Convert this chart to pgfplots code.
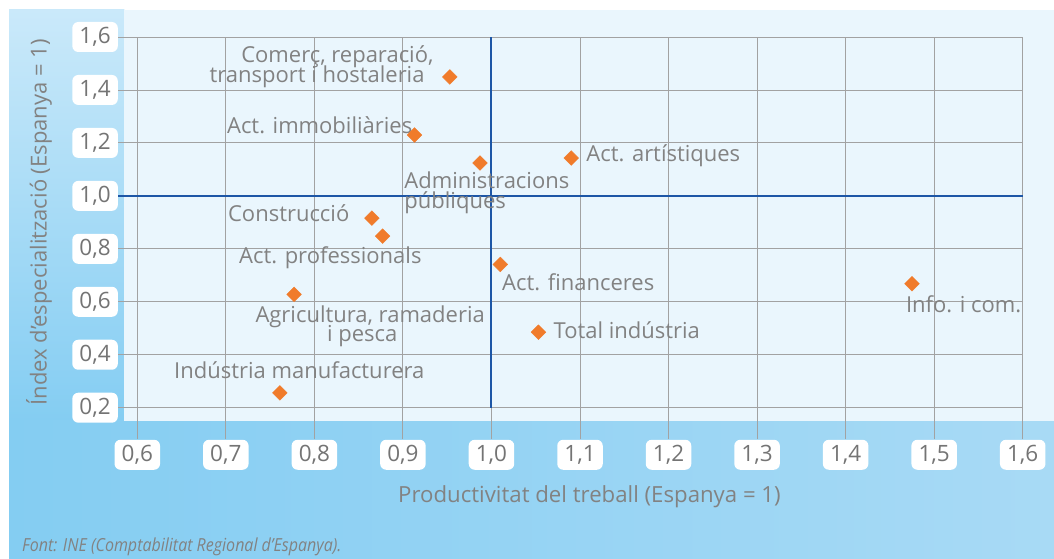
\documentclass[border=0pt]{standalone}
\usepackage{fontspec}
\setmainfont{Open Sans}
\usepackage{pgfplots}
\pgfplotsset{compat=1.18}
\definecolor{txtgray}{HTML}{828282}
\definecolor{tickgray}{HTML}{747474}
\definecolor{gridgray}{HTML}{A2A2A2}
\definecolor{mkorange}{HTML}{F07B2B}
\definecolor{axblue}{HTML}{1D56A6}
\definecolor{panel}{HTML}{EAF6FD}
\definecolor{lstop}{HTML}{CAE9FA}
\definecolor{deep}{HTML}{84CDF2}
\definecolor{bmid}{HTML}{BCE3F8}
\definecolor{bright}{HTML}{A8DAF5}
\begin{document}
\begin{tikzpicture}
\useasboundingbox (0pt,0pt) rectangle (1054pt,558pt);
\fill[white] (0pt,0pt) rectangle (1054pt,558pt);
\shade[top color=lstop, bottom color=deep] (9pt,137.3pt) rectangle (124.3pt,548pt);
\shade[left color=deep, middle color=bmid, right color=bright] (9pt,0pt) rectangle (1054pt,137.3pt);
\fill[panel] (124.3pt,137.3pt) rectangle (1054pt,548pt);
\begin{axis}[
  at={(137.3pt,150.3pt)}, anchor=south west,
  scale only axis, width=885.4pt, height=370.7pt,
  xmin=0.6, xmax=1.6, ymin=0.2, ymax=1.6,
  xtick={0.6,0.7,0.8,0.9,1.0,1.1,1.2,1.3,1.4,1.5,1.6},
  ytick={0.2,0.4,0.6,0.8,1.0,1.2,1.4,1.6},
  /pgf/number format/.cd, fixed, fixed zerofill, precision=1, use comma, assume math mode=true,
  /pgfplots/.cd,
  grid=major,
  major grid style={draw=gridgray, line width=0.9pt},
  axis line style={draw=gridgray, line width=0.9pt},
  tick align=outside, tick pos=left,
  xtick style={draw=gridgray, line width=0.9pt, /pgfplots/major tick length=31.6pt},
  ytick style={draw=gridgray, line width=0.9pt, /pgfplots/major tick length=19pt},
  ticklabel style={fill=white, rounded corners=6pt, minimum width=45.5pt, minimum height=30pt, inner sep=0pt, text=tickgray, font=\fontsize{22.5}{24}\selectfont},
  xticklabel style={anchor=north},
  yticklabel style={anchor=east},
  xticklabel shift=27.6pt,
  yticklabel shift=15pt,
  xlabel={Productivitat del treball (Espanya = 1)},
  ylabel={Índex d’especialització (Espanya = 1)},
  every axis x label/.style={at={(axis description cs:0.5107,-0.2563)}, anchor=base, text=txtgray, font=\fontsize{22.2}{24}\selectfont},
  every axis y label/.style={at={(axis description cs:-0.111,0.5)}, anchor=center, rotate=90, text=txtgray, font=\fontsize{22}{24}\selectfont},
  clip=false,
]
\addplot[axblue, line width=2pt] coordinates {(1,0.2) (1,1.6)};
\addplot[axblue, line width=2pt] coordinates {(0.5785,1) (1.6,1)};
\addplot[only marks, mark=square*, mark size=5.2pt, mark options={rotate=45, fill=mkorange, draw=mkorange}] coordinates {
(0.953,1.449) (0.913,1.230) (0.987,1.124) (1.090,1.143) (0.865,0.916) (0.877,0.848)
(1.010,0.741) (0.777,0.628) (1.053,0.485) (1.475,0.668) (0.761,0.256)};
\begin{scope}[every node/.style={text=txtgray, font=\fontsize{22}{24}\selectfont, inner sep=0pt}]
\node[anchor=base] at (axis cs:0.826,1.502) {Comerç, reparació,};
\node[anchor=base] at (axis cs:0.803,1.430) {transport i hostaleria};
\node[anchor=base] at (axis cs:0.806,1.234) {Act. immobiliàries};
\node[anchor=base west] at (axis cs:0.9015,1.029) {Administracions};
\node[anchor=base west] at (axis cs:0.9015,0.954) {públiques};
\node[anchor=base] at (axis cs:0.771,0.904) {Construcció};
\node[anchor=base] at (axis cs:0.818,0.745) {Act. professionals};
\node[anchor=base] at (axis cs:1.098,0.642) {Act. financeres};
\node[anchor=base west] at (axis cs:1.107,1.128) {Act. artístiques};
\node[anchor=base west] at (axis cs:1.468,0.559) {Info. i com.};
\node[anchor=base west] at (axis cs:1.070,0.460) {Total indústria};
\node[anchor=base] at (axis cs:0.863,0.520) {Agricultura, ramaderia};
\node[anchor=base] at (axis cs:0.854,0.451) {i pesca};
\node[anchor=base] at (axis cs:0.783,0.310) {Indústria manufacturera};
\end{scope}
\end{axis}
\node[font=\fontsize{18}{20}\selectfont\itshape\addfontfeature{FakeStretch=0.89}, text=txtgray, anchor=base west, inner sep=0pt] at (22pt,7pt) {Font: INE (Comptabilitat Regional d’Espanya).};
\end{tikzpicture}
\end{document}
